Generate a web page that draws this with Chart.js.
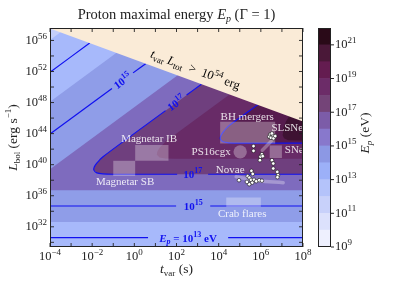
<!DOCTYPE html>
<html>
<head>
<meta charset="utf-8">
<script src="https://cdn.jsdelivr.net/npm/chart.js@4.4.1/dist/chart.umd.min.js"></script>
<style>
  html, body { margin: 0; padding: 0; background: #fff; }
  #wrap { position: relative; width: 407px; height: 281px; }
  canvas { position: absolute; left: 0; top: 0; }
</style>
</head>
<body>
<div id="wrap">
  <canvas id="main" width="407" height="281"></canvas>
  <canvas id="cbar" width="407" height="281"></canvas>
</div>
<script>
// ejes en log10: x = t_var (s), y = L_bol (erg/s)
const xRange = [-4, 8];
const yRange = [29.4, 57.6];
const xTickMarks = [-4, -3, -2, -1, 0, 1, 2, 3, 4, 5, 6, 7, 8];
const xTickLabels = [-4, -2, 0, 2, 4, 6, 8];
const yTickMarks = [30, 32, 34, 36, 38, 40, 42, 44, 46, 48, 50, 52, 54, 56];
const yTickLabels = [32, 36, 40, 44, 48, 52, 56];

// barra de color: log10 E_p (eV)
const cbarLevels = [9, 10, 11, 12, 13, 14, 15, 16, 17, 18, 19, 20, 21, 22];
const cbarColors = ['#eef0fe', '#dce1fc', '#c8d1fa', '#b4c3fa', '#9cb0f8', '#8c98e4', '#8878cc',
                    '#7c5ca8', '#744478', '#6c2c68', '#641c50', '#4a1838', '#2a0a18'];
const cbarTickLabels = [9, 11, 13, 15, 17, 19, 21];

// regiones rellenas (contornos), de abajo hacia arriba
const fillBase = [[-4, 29], [8, 29], [8, 58], [-4, 58]];
const fillE12 = [[-4, 29], [8, 29], [8, 58], [-3.03, 58], [-4, 56.06]];
const fillE14 = [[-4, 32.62], [8, 32.62], [8, 58], [0.95, 58], [-4, 48.1]];
const fillE16 = [[-4, 36.71], [8, 36.71], [8, 58], [5.3, 58], [-4, 39.4]];
const fillE17 = [[8, 38.77], [-1.0, 38.77], [-1.5, 38.82], [-1.78, 38.95], [-1.92, 39.3], [-1.9, 39.7],
                 [-1.78, 40.2], [-1.5, 41.0], [7, 58], [8, 58]];
const fillE18 = [[8, 40.75], [1.98, 40.75], [1.48, 40.8], [1.2, 40.93], [1.07, 41.28], [1.09, 41.68],
                 [1.2, 42.18], [1.48, 42.98], [8, 56]];
const fillE19 = [[8, 42.77], [4.98, 42.77], [4.48, 42.82], [4.21, 42.95], [4.08, 43.3], [4.1, 43.7],
                 [4.21, 44.2], [4.48, 45.0], [8, 52]];
const fillE20 = [[8, 43.1], [7.3, 43.15], [7.1, 43.4], [7.02, 43.9], [7.05, 44.6], [7.2, 45.6],
                 [7.4, 46.5], [8, 48]];
const fillColors = ['#c4cefa', '#a7b9fb', '#8f9de8', '#7e6bbe', '#6f3f7e', '#682b67', '#561c4e', '#3e1232'];
const fillLimit = [[-4, 57.55], [-4, 58], [8, 58], [8, 45.55]];   // t_var L_tot > 1e54 erg

// lineas de contorno (azul)
const line13 = [[[-4, 30.6], [0.65, 30.6]], [[4.45, 30.6], [8, 30.6]], [[-4, 51.9], [-2.117, 55.67]]];
const line15 = [[[-4, 34.68], [1.98, 34.68]], [[3.6, 34.68], [8, 34.68]],
                [[-4, 43.94], [-1.06, 49.82]], [[-0.06, 51.82], [0.54, 53.01]]];
const line17 = [[[8, 38.77], [3.5, 38.77]],
                [[2.03, 38.77], [-1.0, 38.77], [-1.5, 38.82], [-1.78, 38.95], [-1.92, 39.3], [-1.9, 39.7],
                 [-1.78, 40.2], [-1.5, 41.0], [1.48, 46.96]],
                [[2.48, 48.96], [3.18, 50.37]]];
const line19 = [[[5.85, 47.7], [4.48, 45.0], [4.21, 44.2], [4.1, 43.7], [4.08, 43.3], [4.21, 42.95],
                 [4.48, 42.82], [4.98, 42.77], [8, 42.77]]];

// fuentes (cajas semitransparentes)
const boxMagnetarIB = [[0.04, 40.5], [1.62, 40.5], [1.62, 42.52], [0.04, 42.52]];
const boxMagnetarSB = [[-1.0, 38.55], [0.04, 38.55], [0.04, 40.5], [-1.0, 40.5]];
const boxBH = [[4.07, 42.74], [6.68, 42.74], [6.68, 45.52], [4.07, 45.52]];
const boxSNe = [[6.42, 40.86], [7.0, 40.86], [7.0, 42.48], [6.42, 42.48]];
const boxCrab = [[4.36, 34.55], [6.0, 34.55], [6.0, 35.77], [4.36, 35.77]];
const ps16cgx = [[5.02, 41.65]];
const novaeTrack = [[4.83, 38.45], [5.88, 37.94], [7.06, 37.68]];
const slsneTrack = [[6.07, 41.87], [6.54, 43.16]];
const transients = [
  [6.446, 43.90], [6.575, 43.72], [6.399, 43.59], [6.480, 43.46], [6.603, 43.39], [6.684, 43.68], [6.527, 44.03],
  [5.653, 42.39], [5.653, 41.78], [6.052, 41.35], [5.986, 41.01], [6.090, 41.10], [5.957, 40.58],
  [6.527, 40.58], [6.589, 40.15], [6.589, 39.51], [6.779, 39.07], [6.813, 38.65], [6.788, 38.39],
  [5.554, 39.20], [5.615, 38.81], [5.378, 38.52], [5.459, 38.32], [5.535, 38.04], [5.677, 38.06],
  [5.782, 37.87], [5.924, 38.00], [6.052, 37.94], [5.592, 37.68], [5.449, 37.48], [5.340, 37.78], [4.965, 38.00]
];

// etiquetas de fuentes (posicion en datos)
const sourceLabels = [
  ['Magnetar IB', 0.70, 43.23], ['Magnetar SB', -0.44, 37.74], ['PS16cgx', 3.645, 41.68],
  ['BH mergers', 5.354, 46.19], ['SLSNe', 7.254, 44.65], ['SNe', 7.586, 41.87],
  ['Novae', 4.547, 39.29], ['Crab flares', 5.117, 33.68]
];

const SERIF = "'Liberation Serif', 'DejaVu Serif', serif";
const toPts = arr => arr.map(([x, y]) => ({ x, y }));

// texto con sub/superindices
function drawRich(ctx, parts, x, y, opt) {
  const size = opt.size || 12;
  const fontFor = p => (p.it ? 'italic ' : '') + (opt.bold ? 'bold ' : '') +
    ((p.sub || p.sup) ? Math.round(size * 0.7) : size) + 'px ' + SERIF;
  let w = 0;
  parts.forEach(p => { ctx.font = fontFor(p); p.w = ctx.measureText(p.t).width; w += p.w; });
  ctx.save();
  ctx.translate(x, y);
  if (opt.rot) ctx.rotate(opt.rot);
  ctx.fillStyle = opt.color || '#000';
  ctx.textBaseline = 'alphabetic';
  let cx = opt.align === 'left' ? 0 : opt.align === 'right' ? -w : -w / 2;
  parts.forEach(p => {
    ctx.font = fontFor(p);
    const dy = p.sup ? -size * 0.42 : p.sub ? size * 0.22 : 0;
    ctx.fillText(p.t, cx, size * 0.35 + dy);
    cx += p.w;
  });
  ctx.restore();
}
const pow10 = e => [{ t: '10' }, { t: String(e).replace('-', '\u2212'), sup: true }];

// datasets
const datasets = [];
const fills = [fillBase, fillE12, fillE14, fillE16, fillE17, fillE18, fillE19, fillE20];
fills.forEach((f, i) => datasets.push({ data: toPts(f), backgroundColor: fillColors[i], fill: 'shape', borderWidth: 0, pointRadius: 0 }));
[line13, line15, line17, line19].forEach(group => group.forEach(seg =>
  datasets.push({ data: toPts(seg), borderColor: '#1010f0', borderWidth: 1.2, fill: false, pointRadius: 0, tension: 0.25 })));
[boxMagnetarIB, boxMagnetarSB, boxBH, boxSNe, boxCrab].forEach(b =>
  datasets.push({ data: toPts(b), backgroundColor: 'rgba(255,255,255,0.3)', fill: 'shape', borderWidth: 0, pointRadius: 0 }));
datasets.push({ data: toPts(ps16cgx), showLine: false, pointRadius: 6.7, pointBackgroundColor: 'rgba(255,255,255,0.3)', pointBorderWidth: 0 });
[novaeTrack, slsneTrack].forEach(tr =>
  datasets.push({ data: toPts(tr), borderColor: 'rgba(255,255,255,0.3)', borderWidth: 3.5, borderCapStyle: 'round', tension: 0.4, fill: false, pointRadius: 0 }));
datasets.push({ data: toPts(fillLimit), backgroundColor: '#faebd7', fill: 'shape', borderWidth: 0, pointRadius: 0 });
datasets.push({ data: toPts(transients), showLine: false, pointRadius: 1.8, pointBackgroundColor: '#ffffff', pointBorderColor: '#111', pointBorderWidth: 0.6 });
datasets.forEach((d, i) => { d.order = datasets.length - i; });

const mainDecor = {
  id: 'mainDecor',
  afterDraw(chart) {
    const { ctx, chartArea: a, scales: { x, y } } = chart;
    // etiquetas de las fuentes
    sourceLabels.forEach(([txt, tx, ly]) => {
      ctx.save();
      ctx.font = '11px ' + SERIF;
      ctx.fillStyle = 'rgba(255,255,255,0.85)';
      ctx.textAlign = 'center';
      ctx.textBaseline = 'middle';
      ctx.fillText(txt, x.getPixelForValue(tx), y.getPixelForValue(ly));
      ctx.restore();
    });
    // etiquetas de contornos
    const blue = '#1010f0';
    const angle15 = Math.atan2(y.getPixelForValue(49.82) - y.getPixelForValue(43.94), x.getPixelForValue(-1.06) - x.getPixelForValue(-4));
    drawRich(ctx, pow10(15), x.getPixelForValue(-0.56), y.getPixelForValue(50.82), { size: 11, bold: true, color: blue, rot: angle15 });
    drawRich(ctx, pow10(17), x.getPixelForValue(1.98), y.getPixelForValue(47.96), { size: 11, bold: true, color: blue, rot: angle15 });
    drawRich(ctx, pow10(17), x.getPixelForValue(2.77), y.getPixelForValue(38.77), { size: 11, bold: true, color: blue });
    drawRich(ctx, pow10(15), x.getPixelForValue(2.79), y.getPixelForValue(34.68), { size: 11, bold: true, color: blue });
    drawRich(ctx, [{ t: 'E', it: true }, { t: 'p', it: true, sub: true }, { t: ' = 10' }, { t: '13', sup: true }, { t: ' eV' }],
      x.getPixelForValue(2.55), y.getPixelForValue(30.6), { size: 11, bold: true, color: blue });
    // limite t_var L_tot
    const angleLim = Math.atan2(y.getPixelForValue(45.55) - y.getPixelForValue(57.55), x.getPixelForValue(8) - x.getPixelForValue(-4));
    drawRich(ctx, [{ t: 't', it: true }, { t: 'var', sub: true }, { t: ' ' }, { t: 'L', it: true }, { t: 'tot', sub: true },
      { t: '  >  10' }, { t: '54', sup: true }, { t: ' erg' }],
      x.getPixelForValue(2.9), y.getPixelForValue(52.3), { size: 12.5, rot: angleLim });
    // marco y marcas
    ctx.save();
    ctx.strokeStyle = '#222';
    ctx.lineWidth = 0.9;
    xTickMarks.forEach(v => {
      const px = x.getPixelForValue(v);
      ctx.beginPath();
      ctx.moveTo(px, a.bottom); ctx.lineTo(px, a.bottom - 4);
      ctx.moveTo(px, a.top); ctx.lineTo(px, a.top + 4);
      ctx.stroke();
    });
    yTickMarks.forEach(v => {
      const py = y.getPixelForValue(v);
      ctx.beginPath();
      ctx.moveTo(a.left, py); ctx.lineTo(a.left + 4, py);
      ctx.moveTo(a.right, py); ctx.lineTo(a.right - 4, py);
      ctx.stroke();
    });
    ctx.lineWidth = 1;
    ctx.strokeRect(a.left + 0.5, a.top + 0.5, a.right - a.left - 1, a.bottom - a.top - 1);
    ctx.restore();
    xTickLabels.forEach(v => drawRich(ctx, pow10(v), x.getPixelForValue(v), a.bottom + 9, { size: 12.5, color: '#222' }));
    yTickLabels.forEach(v => drawRich(ctx, pow10(v), a.left - 3, y.getPixelForValue(v) - 1, { size: 12.5, align: 'right', color: '#222' }));
    // titulos
    drawRich(ctx, [{ t: 'Proton maximal energy ' }, { t: 'E', it: true }, { t: 'p', it: true, sub: true }, { t: ' (\u0393 = 1)' }],
      (a.left + a.right) / 2, 14, { size: 14.5, color: '#222' });
    drawRich(ctx, [{ t: 't', it: true }, { t: 'var', sub: true }, { t: ' (s)' }], (a.left + a.right) / 2, 268, { size: 13.5, color: '#222' });
    drawRich(ctx, [{ t: 'L', it: true }, { t: 'bol', sub: true }, { t: ' (erg s' }, { t: '\u22121', sup: true }, { t: ')' }],
      12, (a.top + a.bottom) / 2, { size: 13.5, color: '#222', rot: -Math.PI / 2 });
  }
};

new Chart(document.getElementById('main'), {
  type: 'line',
  data: { datasets },
  options: {
    responsive: false,
    animation: false,
    events: [],
    layout: { padding: { left: 50, right: 104, top: 28, bottom: 34 } },
    scales: {
      x: { type: 'linear', min: xRange[0], max: xRange[1], display: false },
      y: { type: 'linear', min: yRange[0], max: yRange[1], display: false }
    },
    plugins: { legend: { display: false }, tooltip: { enabled: false } }
  },
  plugins: [mainDecor]
});

const cbarDecor = {
  id: 'cbarDecor',
  afterDraw(chart) {
    const { ctx, chartArea: a, scales: { y } } = chart;
    ctx.save();
    ctx.strokeStyle = '#222';
    ctx.lineWidth = 1;
    ctx.strokeRect(a.left + 0.5, a.top + 0.5, a.right - a.left - 1, a.bottom - a.top - 1);
    cbarTickLabels.forEach(v => {
      const py = y.getPixelForValue(v);
      ctx.beginPath();
      ctx.moveTo(a.right, py); ctx.lineTo(a.right + 3, py);
      ctx.stroke();
    });
    ctx.restore();
    cbarTickLabels.forEach(v => drawRich(ctx, pow10(v), a.right + 4, y.getPixelForValue(v) - 1, { size: 12.5, align: 'left', color: '#222' }));
    drawRich(ctx, [{ t: 'E', it: true }, { t: 'p', it: true, sub: true }, { t: ' (eV)' }], 364, 133, { size: 13.5, color: '#222', rot: -Math.PI / 2 });
  }
};

new Chart(document.getElementById('cbar'), {
  type: 'bar',
  data: {
    labels: [''],
    datasets: cbarColors.map((c, i) => ({
      data: [[cbarLevels[i], cbarLevels[i + 1]]], backgroundColor: c, borderWidth: 0,
      grouped: false, barPercentage: 1, categoryPercentage: 1
    }))
  },
  options: {
    responsive: false,
    animation: false,
    events: [],
    layout: { padding: { left: 318, right: 76, top: 28, bottom: 34 } },
    scales: { x: { display: false }, y: { display: false, min: 9, max: 22 } },
    plugins: { legend: { display: false }, tooltip: { enabled: false } }
  },
  plugins: [cbarDecor]
});
</script>
</body>
</html>
